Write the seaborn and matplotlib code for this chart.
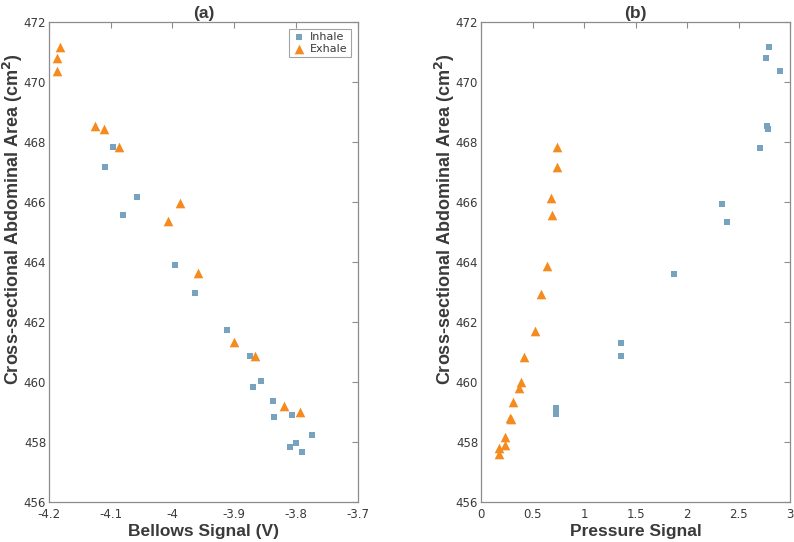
import matplotlib
matplotlib.use("Agg")
import matplotlib.pyplot as plt
import seaborn as sns
import pandas as pd

# ---------------- data ----------------
# Panel (a): Bellows signal (V) vs cross-sectional abdominal area (cm^2)
a_inhale_x = [-4.097, -4.110, -4.057, -4.080, -3.996, -3.964, -3.912, -3.874, -3.856,
              -3.870, -3.837, -3.836, -3.806, -3.774, -3.810, -3.800, -3.791]
a_inhale_y = [467.84, 467.19, 466.17, 465.59, 463.90, 462.97, 461.74, 460.87, 460.05,
              459.86, 459.37, 458.84, 458.90, 458.26, 457.86, 457.97, 457.69]
a_exhale_x = [-4.182, -4.187, -4.187, -4.126, -4.111, -4.087, -3.988, -4.008, -3.958,
              -3.900, -3.866, -3.820, -3.793]
a_exhale_y = [471.17, 470.81, 470.36, 468.55, 468.45, 467.84, 465.98, 465.38, 463.65,
              461.33, 460.88, 459.20, 459.00]

# Panel (b): Pressure signal vs cross-sectional abdominal area (cm^2)
b_inhale_x = [2.799, 2.767, 2.900, 2.780, 2.783, 2.706, 2.337, 2.391, 1.874,
              1.359, 1.359, 0.728, 0.728]
b_inhale_y = [471.17, 470.81, 470.36, 468.53, 468.43, 467.82, 465.95, 465.33, 463.61,
              461.30, 460.88, 459.15, 458.95]
b_exhale_x = [0.735, 0.740, 0.675, 0.685, 0.637, 0.586, 0.524, 0.421, 0.385, 0.369,
              0.314, 0.282, 0.291, 0.233, 0.230, 0.178, 0.178]
b_exhale_y = [467.84, 467.17, 466.14, 465.57, 463.89, 462.94, 461.71, 460.83, 460.00,
              459.82, 459.33, 458.82, 458.78, 458.19, 457.91, 457.80, 457.61]

phases = ["Inhale", "Exhale"]
panel_titles = ["(a)", "(b)"]
x_labels = ["Bellows Signal (V)", "Pressure Signal"]
y_label = "Cross-sectional Abdominal Area (cm$^\\mathbf{2}$)"
a_xticks = [-4.2, -4.1, -4.0, -3.9, -3.8, -3.7]
a_xticklabels = ["-4.2", "-4.1", "-4", "-3.9", "-3.8", "-3.7"]
b_xticks = [0, 0.5, 1, 1.5, 2, 2.5, 3]
b_xticklabels = ["0", "0.5", "1", "1.5", "2", "2.5", "3"]
yticks = [456, 458, 460, 462, 464, 466, 468, 470, 472]


def make_df(ix, iy, ex, ey):
    return pd.DataFrame({
        "x": list(ix) + list(ex),
        "y": list(iy) + list(ey),
        "Phase": [phases[0]] * len(ix) + [phases[1]] * len(ex),
    })


df_a = make_df(a_inhale_x, a_inhale_y, a_exhale_x, a_exhale_y)
df_b = make_df(b_inhale_x, b_inhale_y, b_exhale_x, b_exhale_y)

# ---------------- style ----------------
sns.set_style("white")
plt.rcParams["font.family"] = ["DejaVu Sans"]

palette = {"Inhale": "#78a3bf", "Exhale": "#f58a1f"}
markers = {"Inhale": "s", "Exhale": "^"}
sizes = {"Inhale": 20, "Exhale": 48}
spine_col = "#8c8c8c"
text_col = "#3a3a3a"

fig = plt.figure(figsize=(7.94, 5.42), dpi=100)
ax_a = fig.add_axes([0.0617, 0.0732, 0.3888, 0.8857])
ax_b = fig.add_axes([0.6058, 0.0732, 0.3892, 0.8857])

label_font = dict(family=["Liberation Sans", "DejaVu Sans"], weight="bold", color=text_col)

for ax, df, title, xl, xt, xtl, xlim, show_leg in [
    (ax_a, df_a, panel_titles[0], x_labels[0], a_xticks, a_xticklabels, (-4.2, -3.7), True),
    (ax_b, df_b, panel_titles[1], x_labels[1], b_xticks, b_xticklabels, (0, 3), False),
]:
    for ph in phases:
        sub = df[df["Phase"] == ph]
        sns.scatterplot(data=sub, x="x", y="y", ax=ax, color=palette[ph],
                        marker=markers[ph], s=sizes[ph], linewidth=0,
                        label=ph, legend=show_leg, zorder=3)
    ax.set_xlim(*xlim)
    ax.set_ylim(456, 472)
    ax.set_xticks(xt)
    ax.set_xticklabels(xtl)
    ax.set_yticks(yticks)
    ax.tick_params(direction="in", length=4, width=0.8, colors=spine_col,
                   labelcolor=text_col, labelsize=8.5, top=True, right=True,
                   pad=2)
    ax.tick_params(axis="x", pad=4)
    for sp in ax.spines.values():
        sp.set_color(spine_col)
        sp.set_linewidth(0.9)
    ax.set_xlabel(xl, fontsize=12.5, labelpad=2, **label_font)
    ax.set_ylabel(y_label, fontsize=13, **label_font)
    ax.yaxis.set_label_coords(-0.077, 0.59)
    ax.set_title(title, fontsize=12.5, pad=3, **label_font)
    if show_leg:
        leg = ax.legend(loc="upper right", fontsize=8, frameon=True, fancybox=False,
                        borderpad=0.3, handletextpad=0.4, labelspacing=0.15,
                        handlelength=1.2, borderaxespad=0.6)
        leg.get_frame().set_edgecolor(spine_col)
        leg.get_frame().set_linewidth(0.8)
        for t in leg.get_texts():
            t.set_color(text_col)
    else:
        if ax.get_legend() is not None:
            ax.get_legend().remove()

fig.savefig("out.png", dpi=100, facecolor="white")
